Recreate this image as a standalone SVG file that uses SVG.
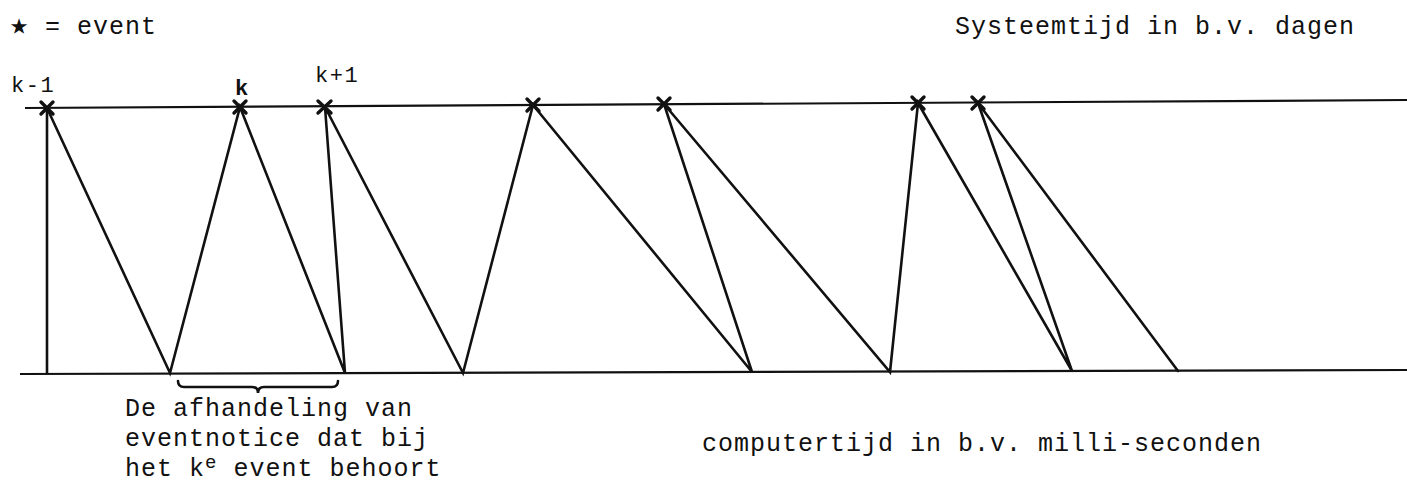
<svg xmlns="http://www.w3.org/2000/svg" width="1407" height="485" viewBox="0 0 1407 485">
<style>
.t{font-family:"Liberation Mono","DejaVu Sans Mono",monospace;font-size:25px;letter-spacing:1px;fill:#111}
.s{font-family:"Liberation Mono","DejaVu Sans Mono",monospace;font-size:22px;letter-spacing:1.5px;fill:#111}
.ln{stroke:#111;stroke-width:2.6;fill:none;stroke-linecap:round}
.ax{stroke:#111;stroke-width:2.2;fill:none}
.x{stroke:#111;stroke-width:3.4;fill:none;stroke-linecap:round}
</style>
<rect width="1407" height="485" fill="#fff"/>
<g id="legend">
<text x="10" y="34" class="t"><tspan font-size="30">★</tspan> = event</text>
</g>
<g id="title-top">
<text x="955" y="34" class="t">Systeemtijd in b.v. dagen</text>
</g>
<g id="title-bottom">
<text x="702" y="451" class="t">computertijd in b.v. milli-seconden</text>
</g>
<g id="labels">
<text x="11" y="92" class="s">k-1</text>
<text x="235" y="95" class="s" font-weight="bold">k</text>
<text x="315" y="82" class="s">k+1</text>
</g>
<g id="axes">
<line x1="25" y1="108" x2="1407" y2="100" class="ax"/>
<line x1="20" y1="374" x2="1407" y2="370" class="ax"/>
</g>
<g id="events">
<path class="x" d="M41 102L53 114M53 102L41 114"/>
<path class="x" d="M234 101L246 113M246 101L234 113"/>
<path class="x" d="M318 101L331 113M331 101L318 113"/>
<path class="x" d="M527 99L539 111M539 99L527 111"/>
<path class="x" d="M658 98L670 110M670 98L658 110"/>
<path class="x" d="M912 97L924 109M924 97L912 109"/>
<path class="x" d="M972 97L984 109M984 97L972 109"/>
</g>
<g id="connectors">
<path class="ln" d="M47 108L47 373"/>
<path class="ln" d="M47 108L170 373L240 107L345 373L325 107L463 373L533 105L752 372L664 104L890 372L918 103L1072 371L978 103L1178 371"/>
</g>
<g id="brace">
<path class="ln" d="M178 381Q178 387 184 387L252 387Q258 387 258 393Q258 387 264 387L332 387Q338 387 338 381"/>
</g>
<g id="note">
<text x="125" y="416" class="t">De afhandeling van</text>
<text x="125" y="446" class="t">eventnotice dat bij</text>
<text x="125" y="476" class="t">het k<tspan dy="-8" font-size="19">e</tspan><tspan dy="8"> event behoort</tspan></text>
</g>
</svg>
